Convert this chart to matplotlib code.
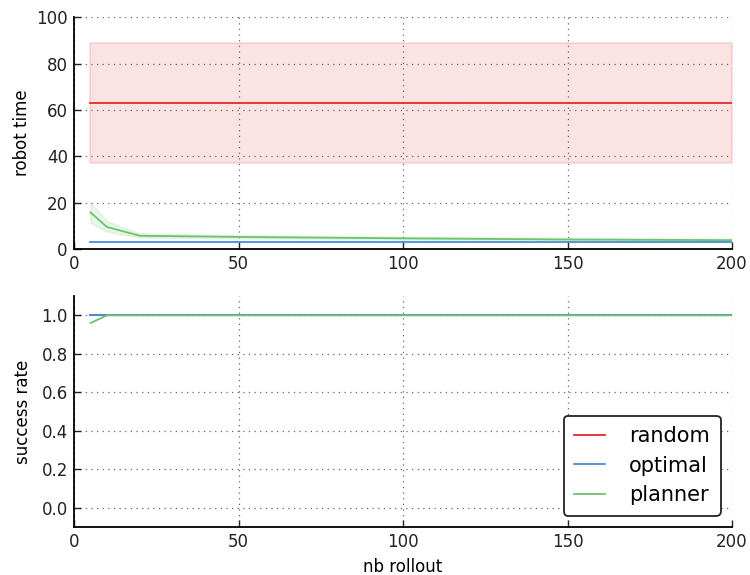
import matplotlib
matplotlib.use("Agg")
import matplotlib.pyplot as plt
import numpy as np

nb_rollout = [5, 10, 20, 50, 100, 150, 200]

random_time = [63, 63, 63, 63, 63, 63, 63]
random_low = [37, 37, 37, 37, 37, 37, 37]
random_high = [89, 89, 89, 89, 89, 89, 89]

optimal_time = [3.0, 3.0, 3.0, 3.0, 3.0, 3.0, 3.0]
optimal_low = [2.8, 2.8, 2.8, 2.8, 2.8, 2.8, 2.8]
optimal_high = [3.2, 3.2, 3.2, 3.2, 3.2, 3.2, 3.2]

planner_time = [15.8, 9.5, 5.7, 5.2, 4.6, 4.1, 3.8]
planner_low = [11.3, 7.5, 5.0, 4.6, 4.1, 3.7, 3.4]
planner_high = [20.0, 12.0, 6.6, 5.9, 5.2, 4.6, 4.3]

random_success = [1.0, 1.0, 1.0, 1.0, 1.0, 1.0, 1.0]
optimal_success = [1.0, 1.0, 1.0, 1.0, 1.0, 1.0, 1.0]
planner_success = [0.96, 1.0, 1.0, 1.0, 1.0, 1.0, 1.0]

labels = ["random", "optimal", "planner"]
colors = ["#e8282c", "#4a8fd8", "#6cc46c"]

plt.rcParams['font.family'] = ['DejaVu Sans']

fig = plt.figure(figsize=(7.5, 5.75), dpi=100)
ax1 = fig.add_axes([0.0987, 0.567, 0.8773, 0.403])
ax2 = fig.add_axes([0.0987, 0.0835, 0.8773, 0.4015])

x = np.array(nb_rollout)
for m, lo, hi, c in [(random_time, random_low, random_high, colors[0]),
                     (optimal_time, optimal_low, optimal_high, colors[1]),
                     (planner_time, planner_low, planner_high, colors[2])]:
    ax1.fill_between(x, lo, hi, color=c, alpha=0.13, linewidth=1.5, edgecolor=c)
    ax1.plot(x, m, color=c, linewidth=1.3)

for s, c, l in [(random_success, colors[0], labels[0]),
                (optimal_success, colors[1], labels[1]),
                (planner_success, colors[2], labels[2])]:
    ax2.plot(x, s, color=c, linewidth=1.3, label=l)

ax1.set_xlim(0, 200)
ax1.set_ylim(0, 100)
ax1.set_yticks([0, 20, 40, 60, 80, 100])
ax1.set_xticks([0, 50, 100, 150, 200])
ax1.set_ylabel("robot time", fontsize=12)
ax1.yaxis.set_label_coords(-0.066, 0.5)

ax2.set_xlim(0, 200)
ax2.set_ylim(-0.1, 1.1)
ax2.set_yticks([0.0, 0.2, 0.4, 0.6, 0.8, 1.0])
ax2.set_yticklabels(["0.0", "0.2", "0.4", "0.6", "0.8", "1.0"])
ax2.set_xticks([0, 50, 100, 150, 200])
ax2.set_ylabel("success rate", fontsize=12)
ax2.yaxis.set_label_coords(-0.064, 0.5)
ax2.set_xlabel("nb rollout", fontsize=12)
ax2.xaxis.set_label_coords(0.5, -0.133)

for ax in (ax1, ax2):
    ax.spines['top'].set_visible(False)
    ax.spines['right'].set_visible(False)
    ax.spines['left'].set_linewidth(1.3)
    ax.spines['bottom'].set_linewidth(1.3)
    ax.tick_params(direction='in', length=5, width=1, labelsize=12,
                   top=False, right=False, colors='#222222', pad=4.5)
    ax.grid(True, linestyle=(0, (1, 3.5)), color='#666666', linewidth=0.9)
    ax.set_axisbelow(True)

leg = ax2.legend(loc='lower right', fontsize=15, fancybox=True, framealpha=1,
                 edgecolor='#222222', handlelength=1.5, borderpad=0.5,
                 labelspacing=0.45, handletextpad=1.15, borderaxespad=0.55)
leg.get_frame().set_linewidth(1.3)

fig.savefig("out.png", dpi=100)
